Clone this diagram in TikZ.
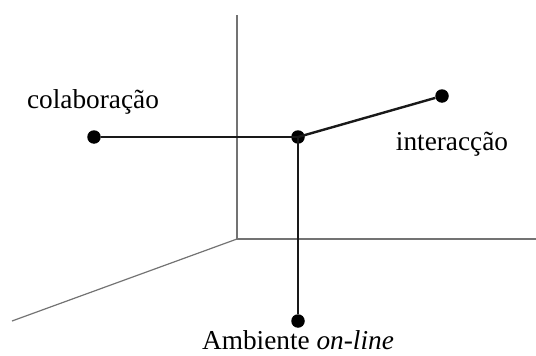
\documentclass[tikz,border=0pt]{standalone}
\usepackage{fontspec}
\setmainfont{Liberation Serif}
\begin{document}
\begin{tikzpicture}[x=1pt,y=-1pt,
  axis/.style={draw=black!55,line width=1.2pt},
  link/.style={draw=black!90,line width=2.4pt},
  dot/.style={circle,fill=black,inner sep=0pt,minimum size=13.5pt},
  lbl/.style={font=\fontsize{27.3}{30}\selectfont,inner sep=0pt,anchor=base}]
\useasboundingbox (0,0) rectangle (536,356);
% axes
\coordinate (o) at (237,239);
\coordinate (top) at (237,15);
\coordinate (right) at (536,239);
\coordinate (left) at (12,321);
\draw[axis] (top) -- (o) -- (right);
\draw[axis] (o) -- (left);
% points
\node[dot] (c) at (298,137) {};
\node[dot] (col) at (94,137) {};
\node[dot] (int) at (442,96) {};
\node[dot] (amb) at (298,321) {};
\draw[link] (col) -- (c.center);
\draw[link] (c.center) -- (int);
\draw[link] (c.center) -- (amb);
% labels
\node[lbl] (tcol) at (93,108) {colaboração};
\node[lbl] (tint) at (452,150) {interacção};
\node[lbl] (tamb) at (298,349.5) {Ambiente \textit{on-line}};
\end{tikzpicture}
\end{document}
